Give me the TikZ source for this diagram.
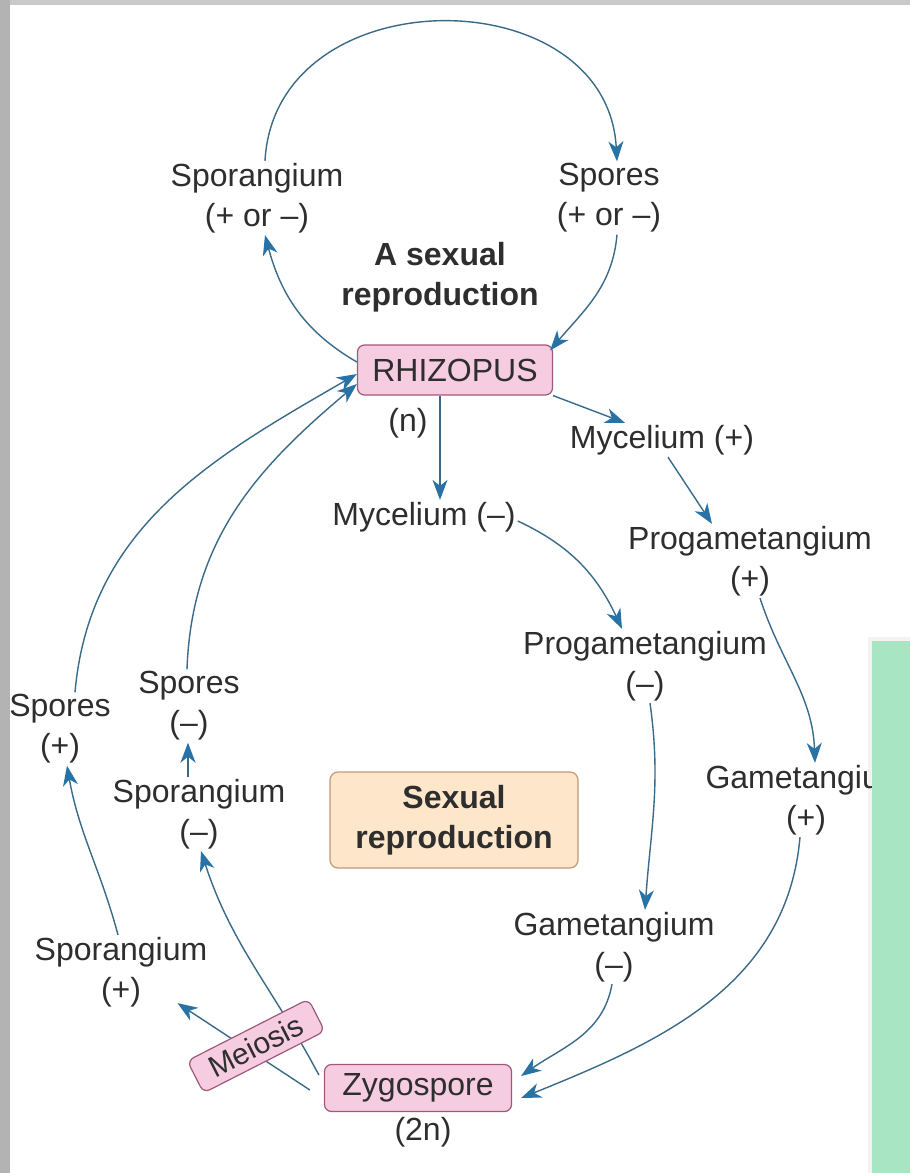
\documentclass[tikz,border=0pt]{standalone}
\usepackage{fontspec}
\setmainfont{Liberation Sans}
\usetikzlibrary{arrows.meta,calc}
\definecolor{txt}{HTML}{2E2E2E}
\definecolor{linec}{HTML}{3A6A88}
\definecolor{arrowc}{HTML}{2872A6}
\definecolor{pinkfill}{HTML}{F6CCE0}
\definecolor{pinkborder}{HTML}{A0587A}
\definecolor{orfill}{HTML}{FDE6CA}
\definecolor{orborder}{HTML}{C09A78}
\definecolor{graytop}{HTML}{C9C9C9}
\definecolor{grayleft}{HTML}{B3B3B3}
\definecolor{greenp}{HTML}{A7E5C3}
\definecolor{shadowc}{HTML}{F3F3F3}
\begin{document}
\begin{tikzpicture}[x=1pt,y=1pt,
  lbl/.style={font=\fontsize{32}{40}\selectfont, text=txt, align=center, inner sep=2pt},
  blbl/.style={lbl, font=\fontsize{32}{40}\selectfont\bfseries},
  pinkbox/.style={lbl, draw=pinkborder, fill=pinkfill, rounded corners=7pt, line width=1.2pt},
  orbox/.style={blbl, draw=orborder, fill=orfill, rounded corners=8pt, line width=1.2pt},
  conn/.style={draw=linec, line width=1.4pt, -{Stealth[length=20pt,width=15pt,inset=6pt,color=arrowc]}},
]
\useasboundingbox (0,0) rectangle (910,-1173);
\fill[white] (0,0) rectangle (910,-1173);
\fill[graytop] (0,0) rectangle (910,-5);
\fill[grayleft] (0,0) rectangle (10,-1173);
\fill[shadowc] (868,-637) rectangle (910,-1173);

% nodes
\node[lbl] (sporA) at (257,-198) {Sporangium\\(+ or –)};
\node[lbl] (sporesA) at (609,-198) {Spores\\(+ or –)};
\node[blbl] (asex) at (440,-277) {A sexual\\reproduction};
\node[pinkbox, minimum width=195pt, minimum height=50pt] (rhiz) at (455,-370) {RHIZOPUS};
\node[lbl] (nlab) at (408,-423) {(n)};
\node[lbl] (mycM) at (424,-517) {Mycelium (–)};
\node[lbl] (mycP) at (662,-440) {Mycelium (+)};
\node[lbl] (progP) at (750,-561) {Progametangium\\(+)};
\node[lbl] (gamP) at (806,-800) {Gametangium\\(+)};
\node[lbl] (progM) at (645,-666) {Progametangium\\(–)};
\node[lbl] (gamM) at (614,-947) {Gametangium\\(–)};
\node[pinkbox, minimum width=187pt, minimum height=47pt] (zyg) at (418,-1088) {Zygospore};
\node[lbl] (twon) at (423,-1132) {(2n)};
\node[lbl] (sporP) at (121,-972) {Sporangium\\(+)};
\node[lbl] (sporM) at (199,-814) {Sporangium\\(–)};
\node[lbl] (sporesM) at (189,-706) {Spores\\(–)};
\node[lbl] (sporesP) at (60,-729) {Spores\\(+)};
\node[orbox, minimum width=248pt, minimum height=96pt] (sexb) at (454,-820) {Sexual\\reproduction};

% connectors
\draw[conn] ([yshift=8pt]rhiz.west) to[out=150,in=-75] ([xshift=8pt]sporA.south);
\draw[conn] ([xshift=8pt]sporA.north) .. controls +(10,185) and +(-10,185) .. ([xshift=8pt]sporesA.north);
\draw[conn] ([xshift=8pt]sporesA.south) to[out=-95,in=50] ([xshift=-3pt,yshift=-6pt]rhiz.north east);
\draw[conn] ([xshift=-15pt]rhiz.south) -- ([xshift=16pt]mycM.north);
\draw[conn] (rhiz.south east) -- ([xshift=-37pt]mycP.north);
\draw[conn] ([xshift=6pt]mycP.south) -- ([xshift=-38pt]progP.north);
\draw[conn] ([xshift=10pt]progP.south) to[out=-72,in=92] ([xshift=9pt]gamP.north);
\draw[conn] ([yshift=-4pt]mycM.east) to[out=-25,in=115] ([xshift=-23pt]progM.north);
\draw[conn] ([xshift=5pt]progM.south) to[out=-82,in=86] ([xshift=31pt]gamM.north);
\draw[conn] ([xshift=-2pt]gamM.south) to[out=-100,in=35] ([xshift=9pt,yshift=12pt]zyg.east);
\draw[conn] ([xshift=-6pt]gamP.south) to[out=-95,in=22] ([xshift=9pt,yshift=-10pt]zyg.east);
\draw[conn] ([xshift=-14pt,yshift=-2pt]zyg.west) -- ([xshift=-32pt,yshift=6pt]sporP.south east);
\draw[conn] ([xshift=-5pt,yshift=13pt]zyg.west) to[out=118,in=-72] ([xshift=2pt]sporM.south);
\draw[conn] ([xshift=-11pt]sporM.north) -- ([xshift=-1pt]sporesM.south);
\draw[conn] ([xshift=-2pt]sporesM.north) to[out=88,in=-140] ([yshift=-14pt]rhiz.west);
\draw[conn] ([xshift=-3pt]sporP.north) to[out=105,in=-80] ([xshift=7pt]sporesP.south);
\draw[conn] ([xshift=15pt]sporesP.north) to[out=85,in=-150] ([yshift=-4pt]rhiz.west);

\node[pinkbox, rotate=27, font=\fontsize{30}{34}\selectfont, minimum width=136pt, minimum height=36pt] (meio) at (256,-1046) {Meiosis};

% overlay panel
\fill[greenp] (872,-641) rectangle (910,-1173);
\end{tikzpicture}
\end{document}
